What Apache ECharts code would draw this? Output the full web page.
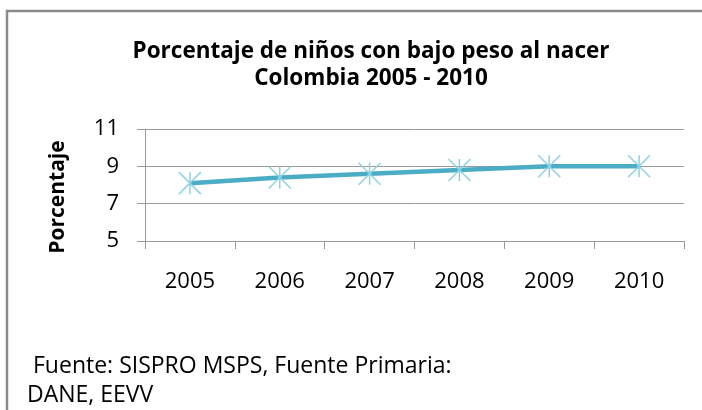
<!DOCTYPE html>
<html>
<head>
<meta charset="utf-8">
<script src="https://cdn.jsdelivr.net/npm/echarts@6/dist/echarts.min.js"></script>
<style>
  html, body { margin: 0; padding: 0; background: #fff; }
  #chart { width: 702px; height: 410px; }
</style>
</head>
<body>
<div id="chart"></div>
<script>
// datos
const years = ['2005', '2006', '2007', '2008', '2009', '2010']
const porcentaje = [8.1, 8.4, 8.6, 8.8, 9.0, 9.0]
const yTicks = [5, 7, 9, 11]

const font = '"Open Sans", Lato, sans-serif'
const gris = '#9a9a9a'

const myChart = echarts.init(document.getElementById('chart'))

const option = {
  backgroundColor: '#fff',
  animation: false,
  title: {
    text: 'Porcentaje de niños con bajo peso al nacer\nColombia 2005 - 2010',
    left: 366,
    top: 33,
    textAlign: 'center',
    textStyle: {
      fontFamily: font,
      fontSize: 22.5,
      fontWeight: 'bold',
      color: '#000',
      lineHeight: 27
    }
  },
  grid: {
    left: 145,
    right: 18,
    top: 129,
    bottom: 169
  },
  xAxis: {
    type: 'category',
    data: years,
    boundaryGap: true,
    axisLine: { lineStyle: { color: gris, width: 1 } },
    axisTick: { show: true, length: 8, lineStyle: { color: gris } },
    axisLabel: {
      margin: 30,
      fontFamily: font,
      fontSize: 22,
      color: '#000'
    },
    splitLine: { show: false }
  },
  yAxis: {
    type: 'value',
    min: yTicks[0],
    max: yTicks[yTicks.length - 1],
    interval: 2,
    axisLine: { show: true, lineStyle: { color: gris, width: 1 } },
    axisTick: { show: true, length: 8, lineStyle: { color: gris } },
    axisLabel: {
      margin: 26,
      fontFamily: font,
      fontSize: 22,
      color: '#000'
    },
    splitLine: { show: true, lineStyle: { color: gris, width: 1 } }
  },
  graphic: [
    {
      type: 'rect',
      shape: { x: 7, y: 11, width: 720, height: 420 },
      style: { fill: 'none', stroke: '#8a8a8a', lineWidth: 2.5 },
      z: 100
    },
    {
      type: 'text',
      x: 58,
      y: 197,
      rotation: Math.PI / 2,
      style: {
        text: 'Porcentaje',
        fontFamily: font,
        fontSize: 21,
        fontWeight: 'bold',
        fill: '#000',
        align: 'center',
        verticalAlign: 'middle'
      }
    },
    {
      type: 'text',
      x: 33,
      y: 366,
      style: {
        text: 'Fuente: SISPRO MSPS, Fuente Primaria:',
        fontFamily: font,
        fontSize: 23,
        fill: '#000',
        verticalAlign: 'middle'
      }
    },
    {
      type: 'text',
      x: 27,
      y: 395,
      style: {
        text: 'DANE, EEVV',
        fontFamily: font,
        fontSize: 23,
        fill: '#000',
        verticalAlign: 'middle'
      }
    }
  ],
  series: [
    {
      name: 'Porcentaje',
      type: 'line',
      data: porcentaje,
      symbol: 'path://M0,-10L0,10M-10,-10L10,10M-10,10L10,-10',
      symbolSize: 22,
      lineStyle: { color: '#4bacc6', width: 4.5 },
      itemStyle: { color: '#8dd3e3', borderColor: '#8dd3e3', borderWidth: 1.5 },
      z: 3
    }
  ]
}

myChart.setOption(option)
</script>
</body>
</html>
